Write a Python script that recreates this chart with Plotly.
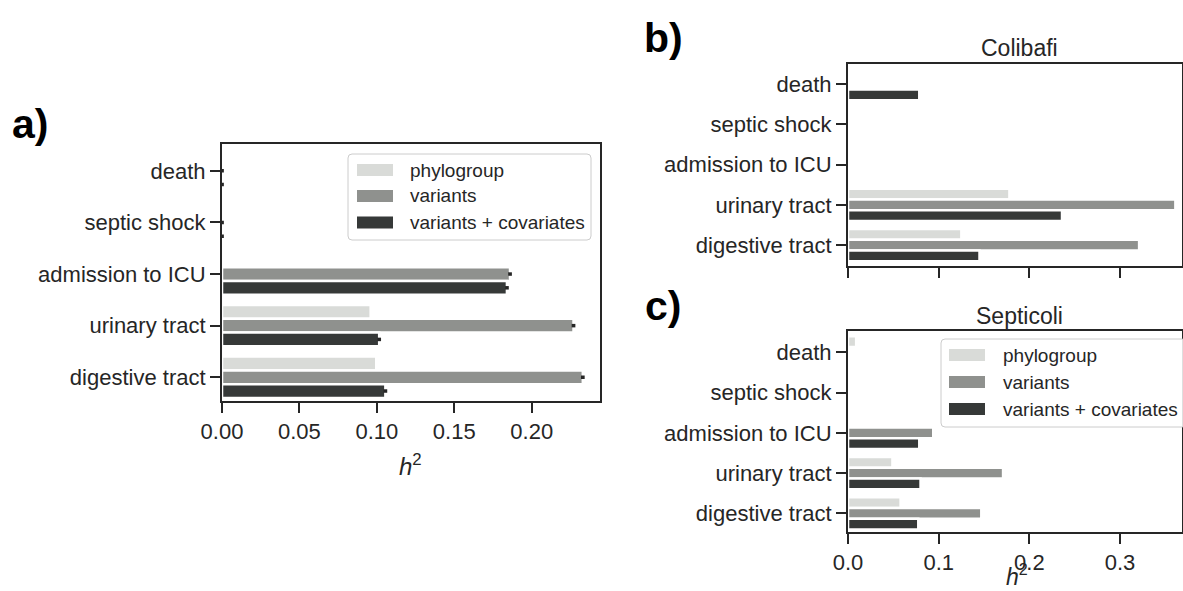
import plotly.graph_objects as go

# ---------------- data ----------------
categories = ["death", "septic shock", "admission to ICU", "urinary tract", "digestive tract"]
series_names = ["phylogroup", "variants", "variants + covariates"]

# panel a (pooled)
phylo_a = [0.0, 0.0, 0.0, 0.096, 0.0996]
var_a = [0.0, 0.0, 0.186, 0.227, 0.233]
cov_a = [0.0, 0.0, 0.184, 0.1015, 0.1055]
err_var_a = [0.0012, 0.0012, 0.0012, 0.0012, 0.0012]
err_cov_a = [0.0012, 0.0012, 0.0012, 0.0012, 0.0012]

# panel b (Colibafi)
phylo_b = [0.0, 0.002, 0.0, 0.178, 0.125]
var_b = [0.0, 0.0, 0.0, 0.361, 0.321]
cov_b = [0.0786, 0.0, 0.0, 0.236, 0.145]

# panel c (Septicoli)
phylo_c = [0.009, 0.0, 0.0, 0.049, 0.058]
var_c = [0.0, 0.0, 0.094, 0.171, 0.147]
cov_c = [0.0, 0.0, 0.0786, 0.080, 0.0775]

ticks_a = [0.0, 0.05, 0.10, 0.15, 0.20]
ticks_bc = [0.0, 0.1, 0.2, 0.3]

# ---------------- style ----------------
W, H = 1183, 591
colors = ["#d9dbd8", "#8f918e", "#363938"]
ink = "#262626"
FONT = "Liberation Sans, Arial, sans-serif"


def px(x):
    return x / W


def py(y):
    return 1 - y / H


fig = go.Figure()

panels = [
    ("x", "y", [phylo_a, var_a, cov_a], [None, err_var_a, err_cov_a]),
    ("x2", "y2", [phylo_b, var_b, cov_b], [None, None, None]),
    ("x3", "y3", [phylo_c, var_c, cov_c], [None, None, None]),
]

for xa, ya, vals, errs in panels:
    for name, v, c, e in zip(series_names, vals, colors, errs):
        kw = {}
        if e is not None:
            kw["error_x"] = dict(type="data", array=e, thickness=3.5, width=0, color=ink)
        fig.add_trace(go.Bar(
            y=categories, x=v, orientation="h", name=name,
            marker=dict(color=c, line=dict(color="white", width=2.5)),
            xaxis=xa, yaxis=ya, showlegend=False, **kw))

axis_common = dict(
    showline=True, linewidth=2, linecolor=ink, mirror=True,
    ticks="outside", ticklen=10, tickwidth=2, tickcolor=ink,
    showgrid=False, zeroline=False, automargin=False,
    tickfont=dict(family=FONT, size=22, color=ink),
)

fig.update_layout(
    template="none",
    width=W, height=H, margin=dict(l=0, r=0, t=0, b=0, pad=0), autosize=False,
    paper_bgcolor="white", plot_bgcolor="white", showlegend=False,
    barmode="group", bargap=0.2, bargroupgap=0,
    font=dict(family=FONT, color=ink),
    xaxis=dict(domain=[px(222), px(600)], range=[0, 0.2441], tickvals=ticks_a,
               tickformat=".2f", anchor="y", **axis_common),
    yaxis=dict(domain=[py(401), py(144)], range=[4.46, -0.52], anchor="x",
               categoryorder="array", categoryarray=categories, **axis_common),
    xaxis2=dict(domain=[px(848), px(1182)], range=[0, 0.3683], tickvals=ticks_bc,
                showticklabels=False, anchor="y2", **axis_common),
    yaxis2=dict(domain=[py(266), py(64)], range=[4.52, -0.5], anchor="x2",
                categoryorder="array", categoryarray=categories, **axis_common),
    xaxis3=dict(domain=[px(848), px(1182)], range=[0, 0.3683], tickvals=ticks_bc,
                tickformat=".1f", anchor="y3", **axis_common),
    yaxis3=dict(domain=[py(532), py(331)], range=[4.46, -0.53], anchor="x3",
                categoryorder="array", categoryarray=categories, **axis_common),
)

# ---------------- annotations: panel labels, titles, axis titles ----------------
ann = []
for label, x, y in [("a)", 30, 124), ("b)", 663, 38), ("c)", 663, 306)]:
    ann.append(dict(text=f"<b>{label}</b>", x=px(x), y=py(y), xref="paper", yref="paper",
                    showarrow=False, xanchor="center", yanchor="middle",
                    font=dict(family=FONT, size=41, color="black")))
for label, x, y in [("Colibafi", 1019, 48), ("Septicoli", 1019, 316)]:
    ann.append(dict(text=label, x=px(x), y=py(y), xref="paper", yref="paper",
                    showarrow=False, xanchor="center", yanchor="middle",
                    font=dict(family=FONT, size=23, color=ink)))
ann.append(dict(text="<i>h</i><sup>2</sup>", x=px(411), y=py(465), xref="paper", yref="paper",
                showarrow=False, xanchor="center", yanchor="middle",
                font=dict(family=FONT, size=24, color=ink)))
ann.append(dict(text="<i>h</i><sup>2</sup>", x=px(1017), y=0, xref="paper", yref="paper",
                showarrow=False, xanchor="center", yanchor="bottom", borderpad=0,
                font=dict(family=FONT, size=23, color=ink)))

# ---------------- manual legends (matplotlib style) ----------------
shapes = []


def rounded_rect(x0, y0, x1, y1, r=4):
    # pixel coords (top-left origin) -> paper path with rounded corners
    def P(x, y):
        return f"{px(x)},{py(y)}"
    return (f"M {P(x0 + r, y0)} L {P(x1 - r, y0)} Q {P(x1, y0)} {P(x1, y0 + r)} "
            f"L {P(x1, y1 - r)} Q {P(x1, y1)} {P(x1 - r, y1)} "
            f"L {P(x0 + r, y1)} Q {P(x0, y1)} {P(x0, y1 - r)} "
            f"L {P(x0, y0 + r)} Q {P(x0, y0)} {P(x0 + r, y0)} Z")


def add_legend(box, patch_x, ys, text_x):
    x0, y0, x1, y1 = box
    shapes.append(dict(type="path", xref="paper", yref="paper", layer="above",
                       path=rounded_rect(x0, y0, x1, y1),
                       line=dict(color="#cccccc", width=1), fillcolor="rgba(255,255,255,0.85)"))
    for name, c, yc in zip(series_names, colors, ys):
        shapes.append(dict(type="rect", xref="paper", yref="paper", layer="above",
                           x0=px(patch_x[0]), x1=px(patch_x[1]),
                           y0=py(yc + 6), y1=py(yc - 6),
                           line=dict(width=0), fillcolor=c))
        ann.append(dict(text=name, x=px(text_x), y=py(yc), xref="paper", yref="paper",
                        showarrow=False, xanchor="left", yanchor="middle",
                        font=dict(family=FONT, size=19, color=ink)))


add_legend((348, 154, 591, 240), (357, 393), (170, 196, 222.5), 408)
add_legend((941, 339, 1186, 427), (949, 985), (355, 382, 409), 1001)

fig.update_layout(annotations=ann, shapes=shapes)

fig.write_html("out.html")
